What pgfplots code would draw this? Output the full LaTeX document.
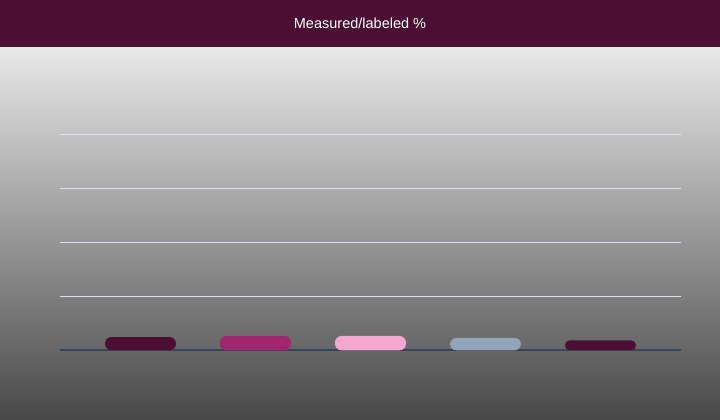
\documentclass[border=0pt]{standalone}
\usepackage{pgfplots}
\pgfplotsset{compat=1.18}
\usepackage{fontspec}
\setmainfont{Liberation Sans}

\definecolor{plum}{HTML}{4A0F33}
\definecolor{berry}{HTML}{A0266E}
\definecolor{blush}{HTML}{F2A9D0}
\definecolor{slate}{HTML}{93A3B8}
\definecolor{gridc}{HTML}{DCDFF0}
\definecolor{basec}{HTML}{34465A}

\begin{document}
\begin{tikzpicture}[x=1bp,y=1bp]
    % background and title band
    \fill[top color={rgb,255:red,233;green,233;blue,233},
          bottom color={rgb,255:red,72;green,72;blue,72}] (0,0) rectangle (720,373);
    \fill[plum] (0,373) rectangle (720,420);
    \node[text=white, font=\fontsize{14.5bp}{16bp}\selectfont] at (360,396) {Measured/labeled \%};

    \begin{axis}[
    at={(60bp,69.5bp)}, anchor=south west,
    scale only axis,
    width=621bp,
    height=270bp,
    xmin=-0.7, xmax=4.7,
    ymin=0, ymax=100,
    axis line style={draw=none},
    ytick={20,40,60,80},
    xtick=\empty,
    yticklabels={},
    ymajorgrids,
    major grid style={gridc, line width=0.9bp},
    major tick length=0pt,
    clip=false,
    pill/.style={ybar, bar width=71bp, bar shift=0pt, draw=none, rounded corners=#1},
    pill/.default=6.5bp,
    ]
    \draw[basec, line width=2bp] (axis cs:-0.7,0) -- (axis cs:4.7,0);

    \addplot[pill, fill=plum] coordinates {(0,4.9)};
    \addplot[pill, fill=berry] coordinates {(1,5.3)};
    \addplot[pill, fill=blush] coordinates {(2,5.3)};
    \addplot[pill, fill=slate] coordinates {(3,4.6)};
    \addplot[pill=4.9bp, fill=plum] coordinates {(4,3.7)};
    \end{axis}

    \pgfresetboundingbox
    \useasboundingbox (0,0.2) rectangle (720,419.8);
\end{tikzpicture}
\end{document}
